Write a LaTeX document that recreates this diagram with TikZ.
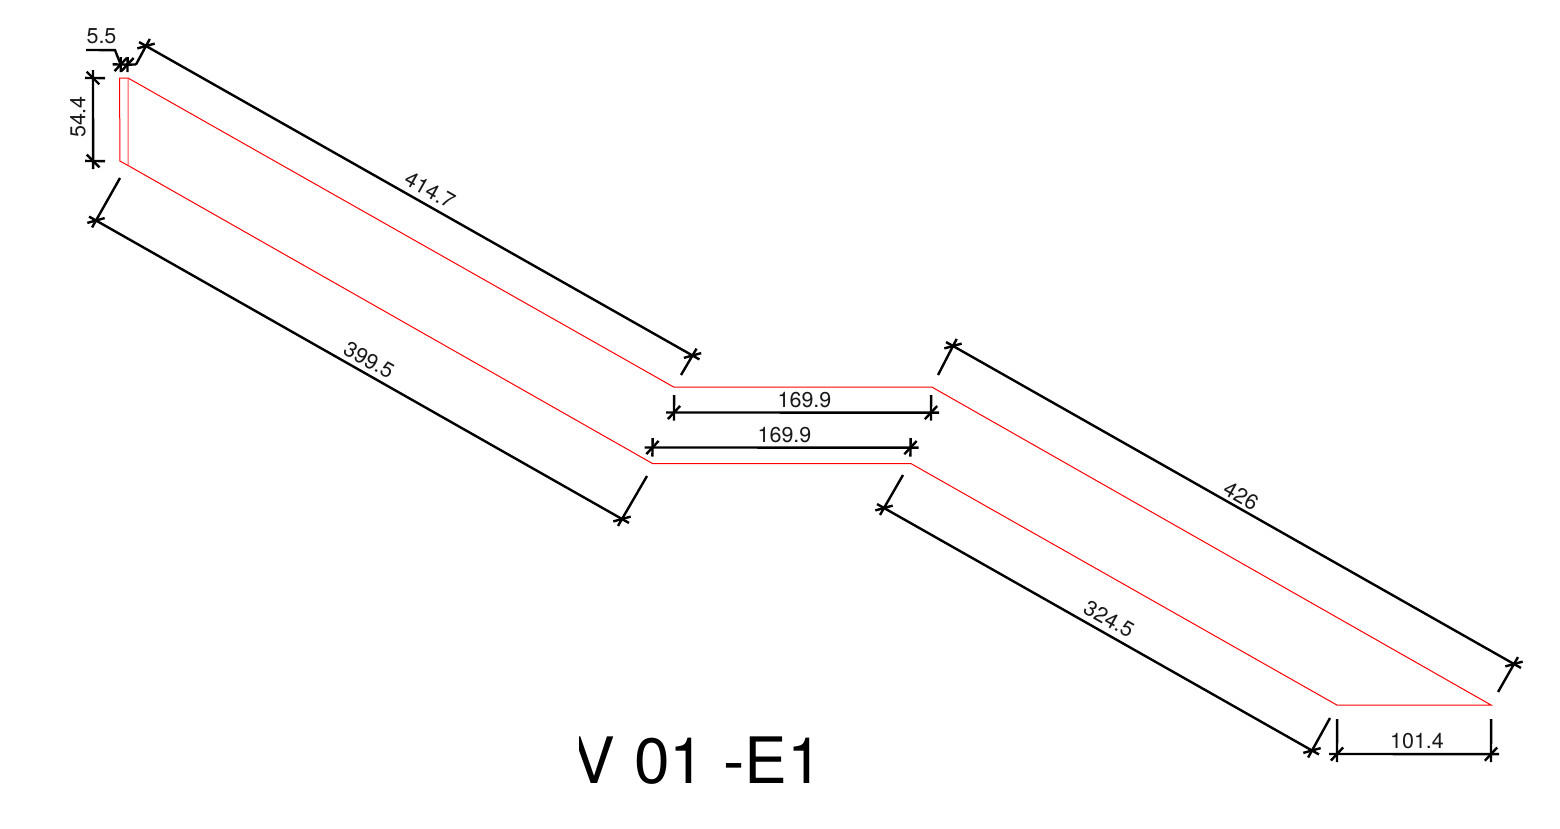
\documentclass[tikz,border=0pt]{standalone}
\usepackage{fontspec}
\setmainfont{TeX Gyre Heros}
\usetikzlibrary{calc}
\tikzset{
  dimline/.style={black,line width=2.4pt},
  outline/.style={red,line width=1pt,line join=miter},
  dimtext/.style={inner sep=0pt,text=black!90,font=\fontsize{21.5}{21.5}\selectfont},
}
\newcommand{\dimtick}[2]{\draw[dimline] ($(#1)+(#2:9)$) -- ($(#1)+(#2+180:9)$);}
\begin{document}
\begin{tikzpicture}[x=1pt,y=-1pt]
\useasboundingbox (0,0) rectangle (1560,828);
\fill[white] (0,0) rectangle (1560,828);
% outline corners
\coordinate (p1) at (119.7,78.1);
\coordinate (p2) at (128,78);
\coordinate (p3) at (674,387.2);
\coordinate (p4) at (932,387.1);
\coordinate (p5) at (1491,705);
\coordinate (p6) at (1337,705.1);
\coordinate (p7) at (911,463.6);
\coordinate (p8) at (652.5,463.5);
\coordinate (p9) at (128.1,165.5);
\coordinate (p10) at (119.8,161);
\draw[outline] (p1) -- (p2) -- (p3) -- (p4) -- (p5) -- (p6) -- (p7) -- (p8) -- (p9) -- (p10) -- cycle;
\draw[red!70,line width=1pt] (p2) -- (p9);
% 414.7
\coordinate (a1) at (146,46);
\coordinate (a2) at (692.5,355.5);
\coordinate (a1e) at (136,64.5);
\coordinate (a2e) at (681,375);
\draw[dimline,shorten <=-8pt,shorten >=-8pt] (a1) -- (a2);
\draw[dimline,shorten >=-8pt] (a1e) -- (a1);
\draw[dimline,shorten >=-8pt] (a2e) -- (a2);
\dimtick{a1}{-15.5}\dimtick{a2}{-15.5}
\node[dimtext,rotate=-29.5] (t1) at (430,190) {414.7};
% 399.5
\coordinate (b1) at (96,220.5);
\coordinate (b2) at (622,519);
\coordinate (b1e) at (120,178);
\coordinate (b2e) at (647,476);
\draw[dimline,shorten <=-8pt,shorten >=-8pt] (b1) -- (b2);
\draw[dimline,shorten >=-8pt] (b1e) -- (b1);
\draw[dimline,shorten >=-8pt] (b2e) -- (b2);
\dimtick{b1}{-15.5}\dimtick{b2}{-15.5}
\node[dimtext,rotate=-29.5] (t2) at (369,360) {399.5};
% 426
\coordinate (c1) at (953,346);
\coordinate (c2) at (1514,664);
\coordinate (c1e) at (938,375);
\coordinate (c2e) at (1498,692);
\draw[dimline,shorten <=-8pt,shorten >=-8pt] (c1) -- (c2);
\draw[dimline,shorten >=-8pt] (c1e) -- (c1);
\draw[dimline,shorten >=-8pt] (c2e) -- (c2);
\dimtick{c1}{-15.5}\dimtick{c2}{-15.5}
\node[dimtext,rotate=-29.5] (t3) at (1241,496) {426};
% 324.5
\coordinate (d1) at (884,508);
\coordinate (d2) at (1312,750.5);
\coordinate (d1e) at (903,475);
\coordinate (d2e) at (1330,718);
\draw[dimline,shorten <=-8pt,shorten >=-8pt] (d1) -- (d2);
\draw[dimline,shorten >=-8pt] (d1e) -- (d1);
\draw[dimline,shorten >=-8pt] (d2e) -- (d2);
\dimtick{d1}{-15.5}\dimtick{d2}{-15.5}
\node[dimtext,rotate=-29.5] (t4) at (1109,619) {324.5};
% 169.9 upper
\coordinate (e1) at (674,412.5);
\coordinate (e2) at (931,412.6);
\coordinate (e1e) at (674.1,395);
\coordinate (e2e) at (931.1,395);
\draw[dimline,shorten <=-8pt,shorten >=-8pt] (e1) -- (e2);
\draw[dimline,shorten >=-8pt] (e1e) -- (e1);
\draw[dimline,shorten >=-8pt] (e2e) -- (e2);
\dimtick{e1}{-47}\dimtick{e2}{-47}
\node[dimtext] (t5) at (804.5,400) {169.9};
% 169.9 lower
\coordinate (f1) at (652.5,447.5);
\coordinate (f2) at (910.5,447.6);
\coordinate (f1e) at (652.6,438);
\coordinate (f2e) at (910.6,438);
\draw[dimline,shorten <=-8pt,shorten >=-8pt] (f1) -- (f2);
\draw[dimline,shorten >=-9pt] (f1e) -- (f1);
\draw[dimline,shorten >=-9pt] (f2e) -- (f2);
\dimtick{f1}{-47}\dimtick{f2}{-47}
\node[dimtext] (t6) at (784.5,435) {169.9};
% 101.4
\coordinate (g1) at (1337,754);
\coordinate (g2) at (1491,754.1);
\coordinate (g1e) at (1337.1,719);
\coordinate (g2e) at (1491.1,719);
\draw[dimline,shorten <=-8pt,shorten >=-8pt] (g1) -- (g2);
\draw[dimline,shorten >=-8pt] (g1e) -- (g1);
\draw[dimline,shorten >=-8pt] (g2e) -- (g2);
\dimtick{g1}{-47}\dimtick{g2}{-47}
\node[dimtext] (t7) at (1417,741) {101.4};
% 54.4
\coordinate (h1) at (93,78);
\coordinate (h2) at (93.1,161);
\coordinate (h1e) at (105,78.1);
\coordinate (h2e) at (105,161.1);
\draw[dimline,shorten <=-8pt,shorten >=-8pt] (h1) -- (h2);
\draw[dimline,shorten >=-8pt] (h1e) -- (h1);
\draw[dimline,shorten >=-8pt] (h2e) -- (h2);
\dimtick{h1}{45}\dimtick{h2}{45}
\node[dimtext,rotate=90] (t8) at (78,117) {54.4};
% 5.5
\coordinate (k1) at (120.7,64.5);
\coordinate (k2) at (127.5,64.6);
\coordinate (k0) at (86,50);
\coordinate (k3) at (115,50.1);
\coordinate (k1u) at (120.8,57);
\coordinate (k1d) at (120.7,72);
\coordinate (k2u) at (127.6,57);
\coordinate (k2d) at (127.5,72);
\draw[dimline] (k0) -- (k3) -- (k1);
\draw[dimline,shorten <=-8pt] (k1) -- (k2) -- (a1e);
\dimtick{k1}{-47}\dimtick{k2}{-47}
\draw[dimline] (k1u) -- (k1d);
\draw[dimline] (k2u) -- (k2d);
\node[dimtext] (t9) at (101.5,36) {5.5};
% title
\begin{scope}
\clip (579,720) rectangle (840,810);
\node[inner sep=0pt,anchor=base west,text=black,font=\fontsize{64}{64}\selectfont] (title) at (572,783) {V\kern 1.5pt{} 01 -E1};
\end{scope}
\end{tikzpicture}
\end{document}
